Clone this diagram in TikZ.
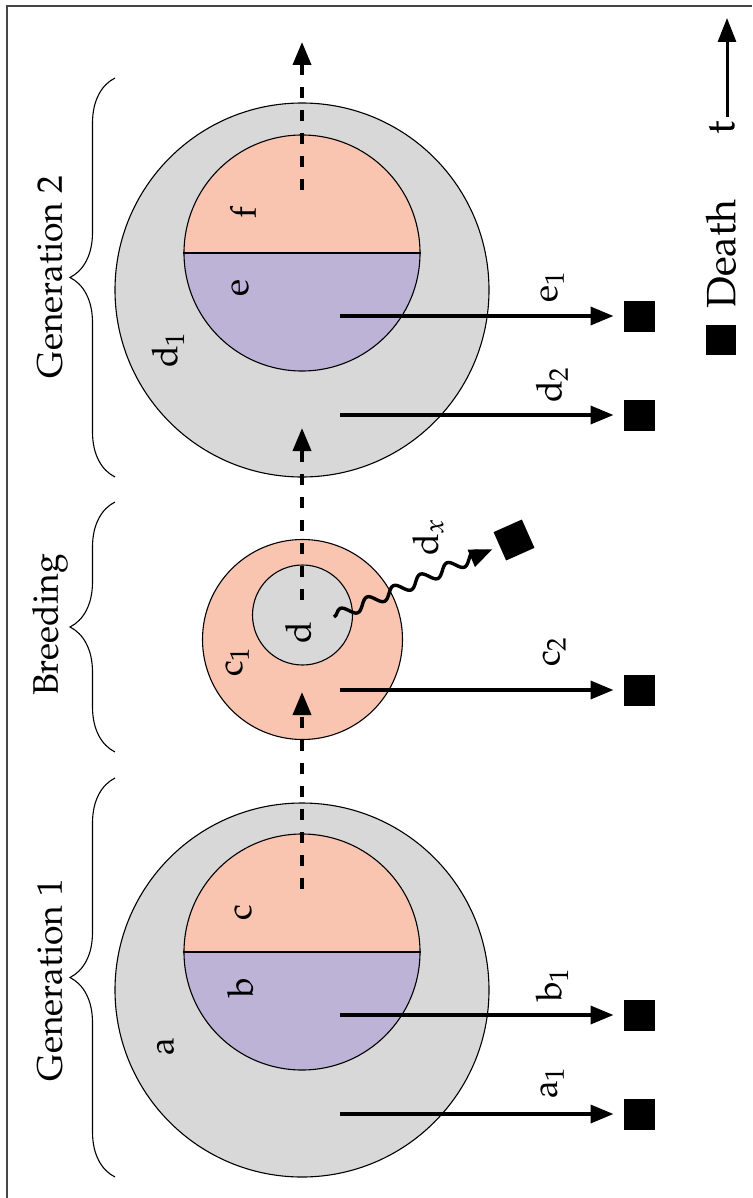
\documentclass[tikz,border=0pt]{standalone}
\usepackage[T1]{fontenc}
\usepackage{mathpazo}
\usetikzlibrary{arrows.meta,decorations.pathmorphing,decorations.pathreplacing}
\definecolor{cgray}{RGB}{216,216,216}
\definecolor{cpink}{RGB}{249,197,177}
\definecolor{cpurple}{RGB}{189,179,214}
\definecolor{cframe}{RGB}{70,70,70}
\tikzset{
  lbl/.style={rotate=90, inner sep=0pt, font=\fontsize{35.5}{40}\selectfont},
  biglbl/.style={rotate=90, inner sep=0pt, font=\fontsize{41}{46}\selectfont},
  outercirc/.style={circle, draw, line width=1.1pt, fill=cgray, minimum size=374pt, inner sep=0pt},
  splitcirc/.style={circle, draw, line width=1.1pt, minimum size=236pt, inner sep=0pt,
     path picture={\fill[cpink] (path picture bounding box.north west) rectangle (path picture bounding box.east);
                   \fill[cpurple] (path picture bounding box.west) rectangle (path picture bounding box.south east);}},
  smallcirc/.style={circle, draw, line width=1.1pt, inner sep=0pt},
  deathsq/.style={fill=black, minimum size=31pt, inner sep=0pt, outer sep=0pt},
  arrtip/.style={-{Triangle[length=23pt,width=18pt]}},
  lifearr/.style={arrtip, line width=3.6pt, shorten >=10pt},
  flowarr/.style={arrtip, line width=3.8pt, dash pattern=on 11pt off 12pt},
  bracestyle/.style={decorate, decoration={brace, amplitude=45pt}, line width=1.1pt},
  wavyarr/.style={arrtip, line width=3.4pt, shorten >=8pt, decorate,
     decoration={snake, amplitude=5.5pt, segment length=29pt, post length=14pt}},
}
\begin{document}
\begin{tikzpicture}[x=1pt, y=-1pt]
\useasboundingbox (0,0) rectangle (752,1198);
% frame
\draw[cframe, line width=1.5pt] (7,1198) -- (7,6) -- (752,6);

% ---------- Generation 1 ----------
\node[outercirc] (g1out) at (302,990) {};
\node[splitcirc] (g1in) at (302,952) {};
\draw[line width=1.1pt] (g1in.west) -- (g1in.east);

% ---------- Breeding ----------
\node[smallcirc, fill=cpink, minimum size=200pt] (brout) at (302.5,639.5) {};
\node[smallcirc, fill=cgray, minimum size=100pt] (brin) at (302.5,615) {};

% ---------- Generation 2 ----------
\node[outercirc] (g2out) at (302,290) {};
\node[splitcirc] (g2in) at (302,253) {};
\draw[line width=1.1pt] (g2in.west) -- (g2in.east);

% ---------- flow (dashed) arrows ----------
\coordinate (f1s) at (302,889); \coordinate (f1e) at (302,692);
\coordinate (f2s) at (302,600); \coordinate (f2e) at (302,428);
\coordinate (f3s) at (302,190); \coordinate (f3e) at (302,42);
\draw[flowarr] (f1s) -- (f1e);
\draw[flowarr] (f2s) -- (f2e);
\draw[flowarr] (f3s) -- (f3e);

% ---------- death squares ----------
\node[deathsq] (a1d) at (639,1114) {};
\node[deathsq] (b1d) at (639,1015) {};
\node[deathsq] (c2d) at (639,690) {};
\node[deathsq] (d2d) at (639,415) {};
\node[deathsq] (e1d) at (639,316) {};
\node[deathsq, rotate=24] (dxd) at (514,540) {};

% ---------- death arrows ----------
\coordinate (a1s) at (340,1114);
\coordinate (b1s) at (340,1015);
\coordinate (c2s) at (340,690);
\coordinate (d2s) at (340,415);
\coordinate (e1s) at (340,316);
\coordinate (dxs) at (334,617);
\draw[lifearr] (a1s) -- (a1d);
\draw[lifearr] (b1s) -- (b1d);
\draw[lifearr] (c2s) -- (c2d);
\draw[lifearr] (d2s) -- (d2d);
\draw[lifearr] (e1s) -- (e1d);
\draw[wavyarr] (dxs) -- (dxd);

% ---------- labels inside ----------
\node[lbl] (la) at (165,1047) {a};
\node[lbl] (lb) at (240,988) {b};
\node[lbl] (lc) at (243,913) {c};
\node[lbl] (lc1) at (237,662) {c$_1$};
\node[lbl] (ld) at (298,633) {d};
\node[lbl] (ld1) at (168,350) {d$_1$};
\node[lbl] (le) at (240,288) {e};
\node[lbl] (lf) at (243,213) {f};

% ---------- arrow labels ----------
\node[lbl] (la1) at (552,1083) {a$_1$};
\node[lbl] (lb1) at (552,985) {b$_1$};
\node[lbl] (lc2) at (554,652) {c$_2$};
\node[lbl] (ld2) at (552,385) {d$_2$};
\node[lbl] (le1) at (552,287) {e$_1$};
\node[lbl] (ldx) at (428,537) {d$_x$};

% ---------- braces ----------
\coordinate (br1a) at (115,1177); \coordinate (br1b) at (115,778);
\coordinate (br2a) at (115,752);  \coordinate (br2b) at (115,502);
\coordinate (br3a) at (115,477);  \coordinate (br3b) at (115,78);
\draw[bracestyle] (br1a) -- (br1b);
\draw[bracestyle] (br2a) -- (br2b);
\draw[bracestyle] (br3a) -- (br3b);
\node[lbl] (gen1) at (50,980) {Generation 1};
\node[lbl] (breed) at (50,625) {Breeding};
\node[lbl] (gen2) at (50,277) {Generation 2};

% ---------- legend ----------
\node[fill=black, minimum size=30pt, inner sep=0pt] (legsq) at (721,340) {};
\node[biglbl] (legdeath) at (721,254) {Death};
\node[biglbl] (legt) at (722,128) {t};
\coordinate (ts) at (727,117); \coordinate (te) at (727,18);
\draw[-{Triangle[length=24pt,width=18pt]}, line width=3pt] (ts) -- (te);
\end{tikzpicture}
\end{document}
